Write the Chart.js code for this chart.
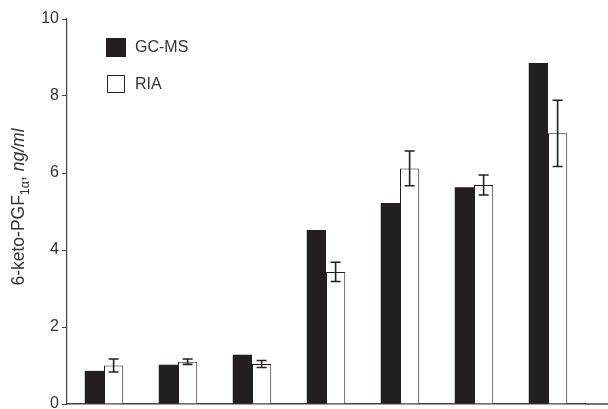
<!DOCTYPE html>
<html>
<head>
<meta charset="utf-8">
<script src="https://cdn.jsdelivr.net/npm/chart.js@4"></script>
<style>
  body { margin: 0; background: #fff; }
  #wrap { width: 608px; height: 409px; }
</style>
</head>
<body>
<div id="wrap"><canvas id="ketoChart" width="608" height="409"></canvas></div>
<script>
// groups along the x axis (no labels printed in the original)
var groups = ['S1', 'S2', 'S3', 'S4', 'S5', 'S6', 'S7'];
// 6-keto-PGF1a, ng/ml
var gcms = [0.86, 1.02, 1.28, 4.52, 5.22, 5.63, 8.86];
var ria = [1.0, 1.1, 1.04, 3.43, 6.12, 5.69, 7.03];
var riaErr = [0.17, 0.07, 0.09, 0.25, 0.45, 0.26, 0.86];
var yTicks = [0, 2, 4, 6, 8, 10];

var FONT = '"Liberation Sans", Arial, sans-serif';
var INK = '#231f20';

// error bars on the RIA bars
var errorBars = {
    id: 'errorBars',
    afterDatasetsDraw: function(chart) {
        var ctx = chart.ctx;
        var y = chart.scales.y;
        var meta = chart.getDatasetMeta(1);
        ctx.save();
        ctx.strokeStyle = INK;
        ctx.lineWidth = 1.6;
        meta.data.forEach(function(bar, i) {
            var top = y.getPixelForValue(ria[i] + riaErr[i]);
            var bot = y.getPixelForValue(ria[i] - riaErr[i]);
            ctx.beginPath();
            ctx.moveTo(bar.x, top); ctx.lineTo(bar.x, bot);
            ctx.moveTo(bar.x - 5, top); ctx.lineTo(bar.x + 5, top);
            ctx.moveTo(bar.x - 5, bot); ctx.lineTo(bar.x + 5, bot);
            ctx.stroke();
        });
        ctx.restore();
    }
};

// vertical legend in the upper left of the plot and the y axis title
var extras = {
    id: 'extras',
    afterDraw: function(chart) {
        var ctx = chart.ctx;
        var a = chart.chartArea;
        ctx.save();
        // baseline runs on to the right edge of the figure
        ctx.strokeStyle = '#444';
        ctx.lineWidth = 1.5;
        ctx.beginPath();
        ctx.moveTo(a.right, a.bottom);
        ctx.lineTo(chart.width, a.bottom);
        ctx.stroke();

        // legend
        var lx = a.left + 39;
        ctx.fillStyle = INK;
        ctx.fillRect(lx, 38, 20, 19);
        ctx.fillStyle = '#fff';
        ctx.strokeStyle = INK;
        ctx.lineWidth = 1;
        ctx.fillRect(lx + 1.5, 75.5, 17, 17);
        ctx.strokeRect(lx + 1.5, 75.5, 17, 17);
        ctx.fillStyle = '#333';
        ctx.font = '16px ' + FONT;
        ctx.textBaseline = 'middle';
        ctx.fillText(chart.data.datasets[0].label, lx + 29, 48);
        ctx.fillText(chart.data.datasets[1].label, lx + 29, 85);

        // y axis title: 6-keto-PGF(1a), ng/ml
        ctx.translate(24, 207);
        ctx.rotate(-Math.PI / 2);
        var parts = [
            { t: '6-keto-PGF', f: '17.5px ' + FONT, dy: 0 },
            { t: '1\u03b1', f: '12.5px ' + FONT, dy: 4.5 },
            { t: ', ', f: '17.5px ' + FONT, dy: 0 },
            { t: 'ng/ml', f: 'italic 17.5px ' + FONT, dy: 0 }
        ];
        var total = 0;
        parts.forEach(function(p) { ctx.font = p.f; p.w = ctx.measureText(p.t).width; total += p.w; });
        var x = -total / 2;
        ctx.textBaseline = 'alphabetic';
        parts.forEach(function(p) {
            ctx.font = p.f;
            ctx.fillText(p.t, x, p.dy);
            x += p.w;
        });
        ctx.restore();
    }
};

var ctx = document.getElementById('ketoChart').getContext('2d');
var chart = new Chart(ctx, {
    type: 'bar',
    data: {
        labels: groups,
        datasets: [{
            label: 'GC-MS',
            data: gcms,
            backgroundColor: INK,
            borderWidth: 0
        }, {
            label: 'RIA',
            data: ria,
            backgroundColor: '#fff',
            borderColor: INK,
            borderWidth: 1
        }]
    },
    options: {
        responsive: false,
        animation: false,
        maintainAspectRatio: false,
        layout: { autoPadding: false, padding: { top: 19, right: 23, bottom: 0, left: 0 } },
        datasets: { bar: { categoryPercentage: 0.52, barPercentage: 1 } },
        plugins: {
            legend: { display: false },
            tooltip: { enabled: false }
        },
        scales: {
            x: {
                grid: { display: false },
                ticks: { display: false },
                border: { display: true, color: '#444', width: 1.5 },
                afterFit: function(s) { s.height = 5; }
            },
            y: {
                min: 0,
                max: 10,
                afterBuildTicks: function(s) { s.ticks = yTicks.map(function(v) { return { value: v }; }); },
                grid: { drawOnChartArea: false, drawTicks: true, tickLength: 5, color: '#444' },
                border: { display: true, color: '#444', width: 1.2 },
                ticks: { color: '#333', font: { family: FONT, size: 16 }, padding: 3 },
                afterFit: function(s) {
                    s.width = 67;
                    s.paddingTop = 0;
                    s.paddingBottom = 0;
                }
            }
        }
    },
    plugins: [errorBars, extras]
});
</script>
</body>
</html>
